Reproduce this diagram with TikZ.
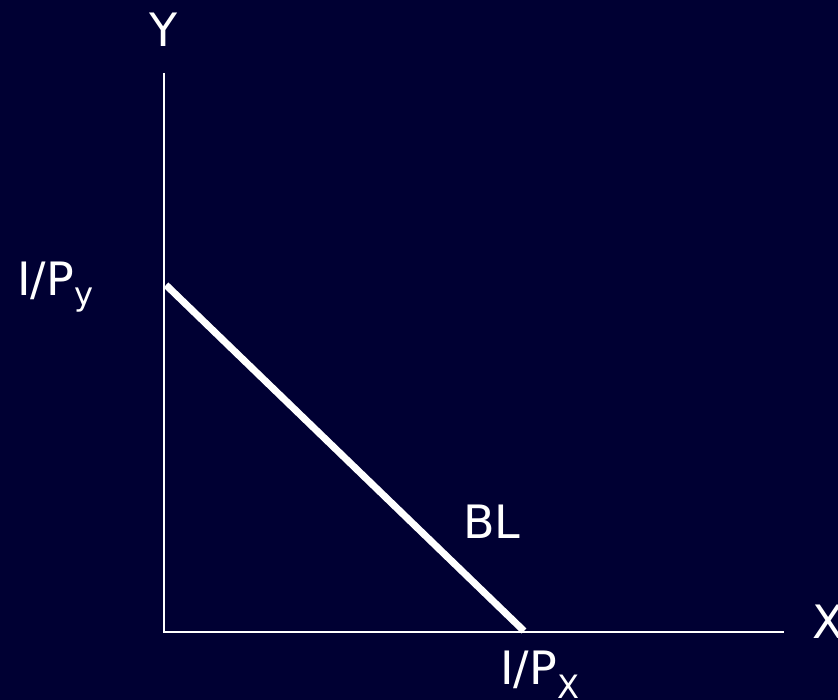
\documentclass[tikz,border=0pt]{standalone}
\usepackage{fontspec}
\setmainfont{DejaVu Sans}
\definecolor{bg}{HTML}{000033}
\begin{document}
\begin{tikzpicture}[x=1pt,y=-1pt,
  lbl/.style={text=white,inner sep=0pt,font=\fontsize{46}{46}\selectfont},
  axis/.style={draw=white,line width=1.8pt},
  bl/.style={draw=white,line width=7pt}]
\fill[bg] (0,0) rectangle (838,700);
\useasboundingbox (0,0) rectangle (838,700);
\coordinate (o) at (164,632);
\coordinate (ytop) at (164,73);
\coordinate (xend) at (784,632);
\coordinate (a) at (166,285);
\coordinate (b) at (524,631);
\draw[axis] (ytop) -- (o) -- (xend);
\draw[bl] (a) -- (b);
\node[lbl,anchor=base west] (ylab) at (149,47) {Y};
\node[lbl,anchor=base west] (xlab) at (812,638) {X};
\node[lbl,anchor=base west] (iy) at (17,296) {I/P\textsubscript{y}};
\node[lbl,anchor=base west] (ix) at (500,684) {I/P\textsubscript{X}};
\node[lbl,anchor=base west] (blab) at (463,538) {BL};
\end{tikzpicture}
\end{document}
